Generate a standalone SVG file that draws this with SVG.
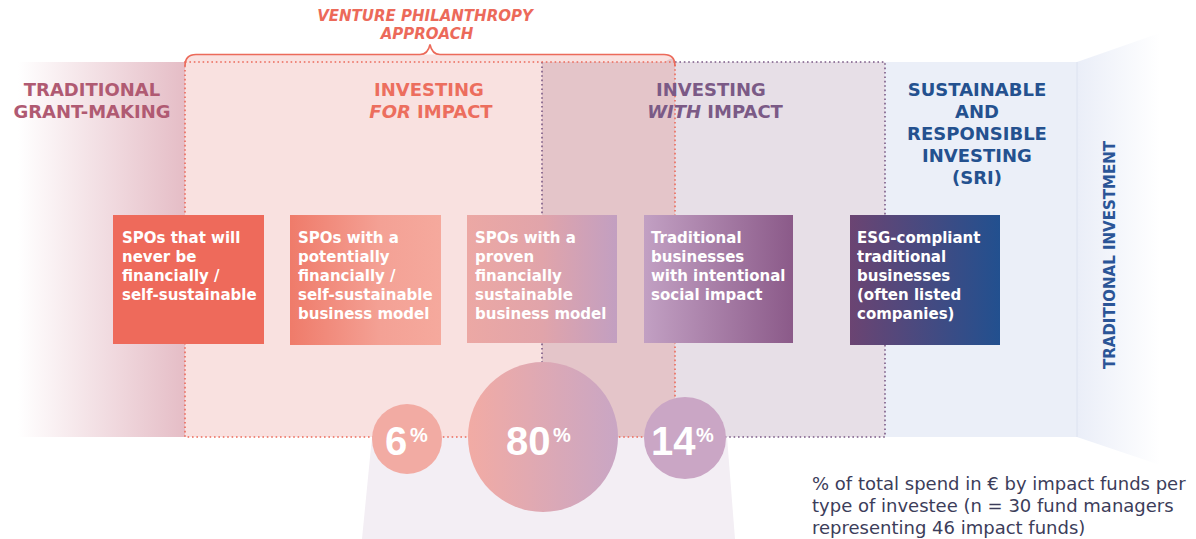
<svg xmlns="http://www.w3.org/2000/svg" width="1196" height="539" viewBox="0 0 1196 539">
  <defs>
    <linearGradient id="gGrant" x1="0" y1="0" x2="1" y2="0">
      <stop offset="0" stop-color="#e5bcc6" stop-opacity="0"/>
      <stop offset="1" stop-color="#e5bdc6"/>
    </linearGradient>
    <linearGradient id="gTrad" x1="0" y1="0" x2="1" y2="0">
      <stop offset="0" stop-color="#eaeef8"/>
      <stop offset="1" stop-color="#ffffff"/>
    </linearGradient>
    <linearGradient id="gBox2" x1="0" y1="0" x2="1" y2="0">
      <stop offset="0" stop-color="#ef7b6a"/>
      <stop offset="0.6" stop-color="#f4a195"/>
      <stop offset="1" stop-color="#f5a99d"/>
    </linearGradient>
    <linearGradient id="gBox3" x1="0" y1="0" x2="1" y2="0">
      <stop offset="0" stop-color="#eca8a4"/>
      <stop offset="0.5" stop-color="#e1a4aa"/>
      <stop offset="1" stop-color="#c29fc1"/>
    </linearGradient>
    <linearGradient id="gBox4" x1="0" y1="0" x2="1" y2="0">
      <stop offset="0" stop-color="#c2a0c3"/>
      <stop offset="1" stop-color="#8b5a89"/>
    </linearGradient>
    <linearGradient id="gBox5" x1="0" y1="0" x2="1" y2="0">
      <stop offset="0" stop-color="#6b4472"/>
      <stop offset="1" stop-color="#22508f"/>
    </linearGradient>
    <linearGradient id="gC80" x1="0" y1="0" x2="1" y2="0">
      <stop offset="0" stop-color="#f2aba4"/>
      <stop offset="1" stop-color="#c9a6c4"/>
    </linearGradient>
    <style>
      .hd { font-family: "DejaVu Sans", "Liberation Sans", sans-serif; font-weight: bold; font-size: 18px; text-anchor: middle; }
      .box-t { font-family: "DejaVu Sans", "Liberation Sans", sans-serif; font-weight: bold; font-size: 15px; fill: #ffffff; }
      .pct { font-family: "Liberation Sans", Arial, sans-serif; font-weight: bold; fill: #ffffff; }
      .big { font-size: 40px; }
      .sup { font-size: 20px; }
      .cap { font-family: "DejaVu Sans", "Liberation Sans", sans-serif; font-size: 18px; fill: #3c3d5a; }
      .dot-r { fill: none; stroke: #ec6a5a; stroke-width: 1.6; stroke-dasharray: 1.6 2.8; }
      .dot-p { fill: none; stroke: #7b5a86; stroke-width: 1.6; stroke-dasharray: 1.6 2.8; }
    </style>
  </defs>

  <!-- background bands -->
  <g id="bands">
    <polygon points="372,437 727,437 735,539 362,539" fill="#f3eef4"/>
    <rect x="18" y="62" width="167" height="375" fill="url(#gGrant)"/>
    <path d="M185,437 V64 Q185,54.5 195,54.5 H665 Q675,54.5 675,64 V437 Z" fill="#f9e1e0"/>
    <path d="M542,62 H665 Q675,54.5 675,64 V437 H542 Z" fill="#e4c5c9"/>
    <rect x="675" y="62" width="210" height="375" fill="#e7dfe7"/>
    <rect x="885" y="62" width="192" height="375" fill="#ebeff8"/>
    <polygon points="1077,62 1160,33 1160,465 1077,437" fill="url(#gTrad)"/>
    <line x1="1077" y1="62" x2="1077" y2="437" stroke="#dce2f0" stroke-width="1"/>
  </g>

  <!-- dotted outlines and approach brace -->
  <g id="connectors">
    <path class="dot-p" d="M675,62 H885 V437 H675"/>
    <line class="dot-p" x1="542" y1="62" x2="542" y2="437"/>
    <rect class="dot-r" x="185" y="62" width="490" height="375"/>
    <path d="M185,66 Q185,54.5 196,54.5 H420 Q428,54.5 430,44.5 Q432,54.5 440,54.5 H664 Q675,54.5 675,66" fill="none" stroke="#ec6a5a" stroke-width="1.6"/>
  </g>

  <!-- column headings -->
  <g id="heading-vp">
    <text class="hd" x="425" y="21" style="font-size:15px;font-style:italic;fill:#ec6a5a">VENTURE PHILANTHROPY</text>
    <text class="hd" x="427" y="38.5" style="font-size:15px;font-style:italic;fill:#ec6a5a">APPROACH</text>
  </g>
  <g id="heading-grant" fill="#b05a72">
    <text class="hd" x="92" y="96">TRADITIONAL</text>
    <text class="hd" x="92" y="118">GRANT-MAKING</text>
  </g>
  <g id="heading-for" fill="#ec6e5e">
    <text class="hd" x="429" y="96">INVESTING</text>
    <text class="hd" x="431" y="118"><tspan font-style="italic">FOR</tspan> IMPACT</text>
  </g>
  <g id="heading-with" fill="#7b5a86">
    <text class="hd" x="711" y="96">INVESTING</text>
    <text class="hd" x="715" y="118"><tspan font-style="italic">WITH</tspan> IMPACT</text>
  </g>
  <g id="heading-sri" fill="#24518f">
    <text class="hd" x="977" y="96">SUSTAINABLE</text>
    <text class="hd" x="977" y="118">AND</text>
    <text class="hd" x="977" y="140">RESPONSIBLE</text>
    <text class="hd" x="977" y="162">INVESTING</text>
    <text class="hd" x="977" y="184">(SRI)</text>
  </g>
  <g id="heading-traditional-investment">
    <text class="hd" transform="translate(1115,369) rotate(-90)" x="0" y="0" style="font-size:15px;text-anchor:start;fill:#2b5597">TRADITIONAL INVESTMENT</text>
  </g>

  <!-- investee type boxes -->
  <g id="box-never">
    <rect x="113" y="215" width="151" height="129" fill="#ee6a5b"/>
    <text class="box-t" x="122" y="243">SPOs that will</text>
    <text class="box-t" x="122" y="262">never be</text>
    <text class="box-t" x="122" y="281">financially /</text>
    <text class="box-t" x="122" y="300">self-sustainable</text>
  </g>
  <g id="box-potential">
    <rect x="290" y="215" width="151" height="130" fill="url(#gBox2)"/>
    <text class="box-t" x="298" y="243">SPOs with a</text>
    <text class="box-t" x="298" y="262">potentially</text>
    <text class="box-t" x="298" y="281">financially /</text>
    <text class="box-t" x="298" y="300">self-sustainable</text>
    <text class="box-t" x="298" y="319">business model</text>
  </g>
  <g id="box-proven">
    <rect x="467" y="215" width="150" height="128" fill="url(#gBox3)"/>
    <text class="box-t" x="475" y="243">SPOs with a</text>
    <text class="box-t" x="475" y="262">proven</text>
    <text class="box-t" x="475" y="281">financially</text>
    <text class="box-t" x="475" y="300">sustainable</text>
    <text class="box-t" x="475" y="319">business model</text>
  </g>
  <g id="box-traditional">
    <rect x="644" y="215" width="149" height="128" fill="url(#gBox4)"/>
    <text class="box-t" x="651" y="243">Traditional</text>
    <text class="box-t" x="651" y="262">businesses</text>
    <text class="box-t" x="651" y="281">with intentional</text>
    <text class="box-t" x="651" y="300">social impact</text>
  </g>
  <g id="box-esg">
    <rect x="850" y="215" width="150" height="130" fill="url(#gBox5)"/>
    <text class="box-t" x="857" y="243">ESG-compliant</text>
    <text class="box-t" x="857" y="262">traditional</text>
    <text class="box-t" x="857" y="281">businesses</text>
    <text class="box-t" x="857" y="300">(often listed</text>
    <text class="box-t" x="857" y="319">companies)</text>
  </g>

  <!-- share of spend bubbles -->
  <g id="pct-6">
    <circle cx="407" cy="439" r="35" fill="#f2aba3"/>
    <text class="pct"><tspan class="big" x="385" y="455">6</tspan><tspan class="sup" x="410" y="442">%</tspan></text>
  </g>
  <g id="pct-80">
    <circle cx="543" cy="437" r="75" fill="url(#gC80)"/>
    <text class="pct"><tspan class="big" x="506" y="455">80</tspan><tspan class="sup" x="553" y="442">%</tspan></text>
  </g>
  <g id="pct-14">
    <circle cx="685" cy="438" r="41" fill="#caa6c5"/>
    <text class="pct"><tspan class="big" x="651" y="455">14</tspan><tspan class="sup" x="696" y="442">%</tspan></text>
  </g>

  <!-- caption -->
  <g id="caption">
    <text class="cap" x="812" y="490">% of total spend in € by impact funds per</text>
    <text class="cap" x="812" y="512">type of investee (n = 30 fund managers</text>
    <text class="cap" x="812" y="534">representing 46 impact funds)</text>
  </g>
</svg>
